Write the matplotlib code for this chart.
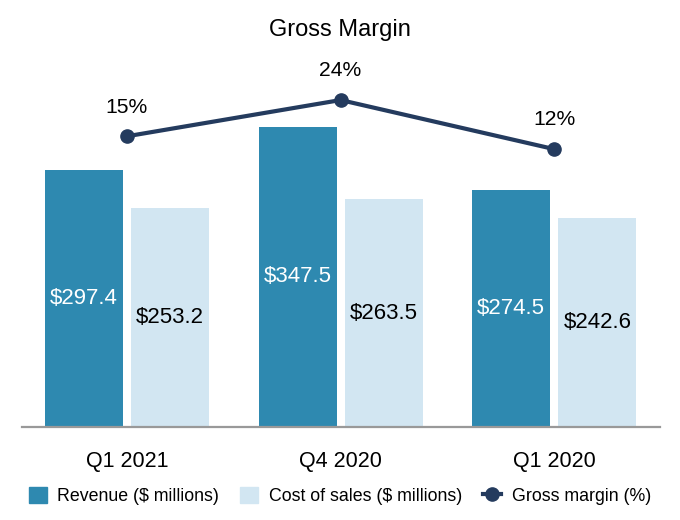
import matplotlib
matplotlib.use("Agg")
import matplotlib.pyplot as plt
import numpy as np
from matplotlib.lines import Line2D
from matplotlib.patches import Patch

plt.rcParams['font.family'] = ['Liberation Sans', 'DejaVu Sans']

categories = ["Q1 2021", "Q4 2020", "Q1 2020"]
revenue = [297.4, 347.5, 274.5]
cost_of_sales = [253.2, 263.5, 242.6]
gross_margin = [14.9, 24.2, 11.6]
margin_labels = ["15%", "24%", "12%"]

c_rev = "#2E89B0"
c_cost = "#D2E6F2"
c_line = "#243B5E"

fig = plt.figure(figsize=(6.8, 5.2), dpi=100)
ax = fig.add_axes([0.032, 0.1788, 0.939, 0.715])
x = np.arange(len(categories))
w = 0.365
off = 0.2014
b1 = ax.bar(x - off, revenue, w, color=c_rev)
b2 = ax.bar(x + off, cost_of_sales, w, color=c_cost)
for r, v in zip(b1, revenue):
    ax.text(r.get_x() + r.get_width() / 2, v / 2, f"${v:.1f}", ha="center", va="center",
            color="white", fontsize=16)
for r, v in zip(b2, cost_of_sales):
    ax.text(r.get_x() + r.get_width() / 2, v / 2, f"${v:.1f}", ha="center", va="center",
            color="black", fontsize=16)
ax.set_xlim(-0.492, 2.496)
ax.set_ylim(0, 430.5)
ax.set_yticks([])
ax.set_xticks(x)
ax.set_xticklabels(categories, fontsize=15.5)
ax.tick_params(axis="x", length=0, pad=17)
for s in ["top", "right", "left"]:
    ax.spines[s].set_visible(False)
ax.spines["bottom"].set_color("#999999")
ax.spines["bottom"].set_linewidth(1.6)

ax2 = ax.twinx()
ax2.set_ylim(-59.7, 35.7)
ax2.plot(x, gross_margin, color=c_line, lw=3, marker="o", ms=9.5)
for xi, v, lab in zip(x, gross_margin, margin_labels):
    ax2.annotate(lab, (xi, v), xytext=(0, 21), textcoords="offset points",
                 ha="center", va="center", fontsize=15.2)
ax2.set_yticks([])
for s in ["top", "right", "left", "bottom"]:
    ax2.spines[s].set_visible(False)

fig.text(0.5, 1 - 30 / 520, "Gross Margin", ha="center", va="center", fontsize=17)

handles = [Patch(color=c_rev), Patch(color=c_cost),
           Line2D([0], [0], color=c_line, lw=3, marker="o", ms=9.5)]
labels = ["Revenue ($ millions)", "Cost of sales ($ millions)", "Gross margin (%)"]
fig.legend(handles, labels, loc="center", bbox_to_anchor=(0.5, 1 - 496 / 520), ncol=3,
           frameon=False, fontsize=12.8, handlelength=1.0, handleheight=1.0,
           columnspacing=1.2, handletextpad=0.6)

fig.savefig("out.png", dpi=100)
